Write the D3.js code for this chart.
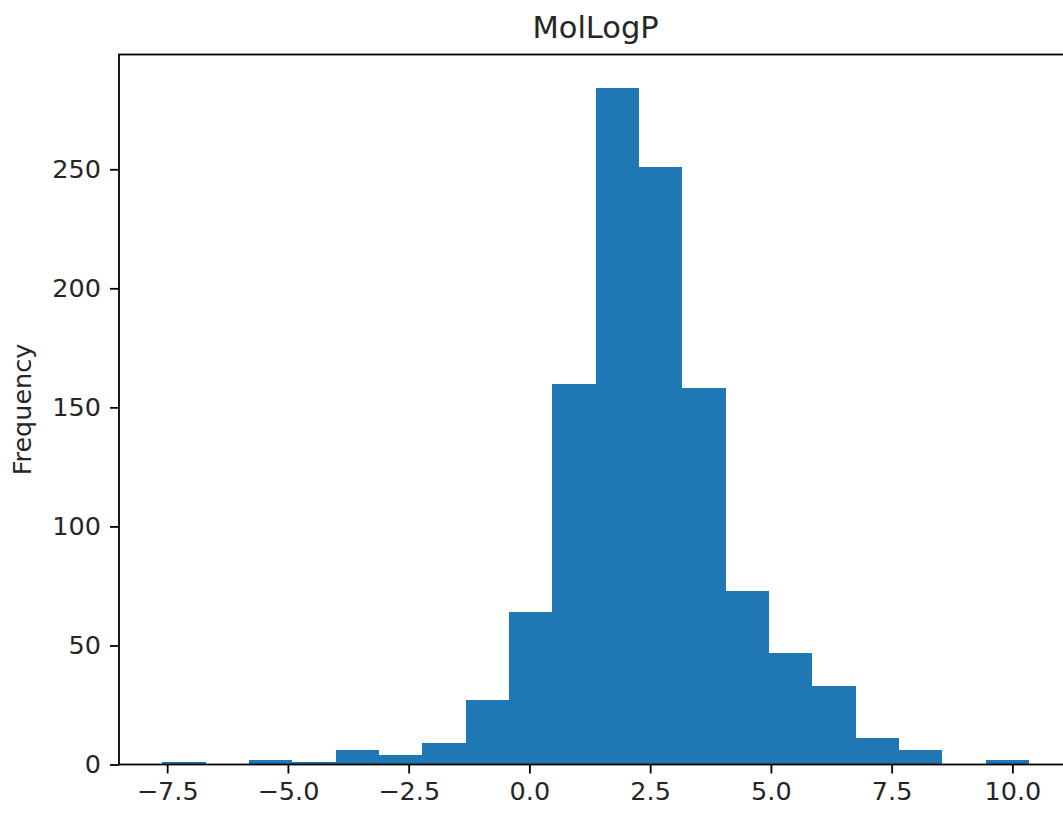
<!DOCTYPE html>
<html>
<head>
<meta charset="utf-8">
<script src="https://cdn.jsdelivr.net/npm/d3@7"></script>
<style>
  body { margin: 0; background: #fff; }
  svg { display: block; font-family: "DejaVu Sans", sans-serif; }
</style>
</head>
<body>
<div id="chart"></div>
<script>
// histogram of MolLogP, 20 bins
const binStart = -7.60;
const binEnd = 10.34;
const counts = [1, 0, 2, 1, 6, 4, 9, 27, 64, 160, 284, 251, 158, 73, 47, 33, 11, 6, 0, 2];
const xTicks = [-7.5, -5.0, -2.5, 0.0, 2.5, 5.0, 7.5, 10.0];
const yTicks = [0, 50, 100, 150, 200, 250];
const title = "MolLogP";
const yLabel = "Frequency";

const W = 1063, H = 813;
const plotLeft = 119, plotTop = 54.5, plotBottom = 764.5;

var nBins = counts.length;
var step = (binEnd - binStart) / nBins;
var bins = counts.map(function(c, i){
	return {x0: binStart + i*step, x1: binStart + (i+1)*step, n: c};
});

var span = binEnd - binStart;
var xMin = binStart - 0.05*span, xMax = binEnd + 0.05*span;
var pxPerUnit = 48.3;
var plotRight = plotLeft + (xMax - xMin)*pxPerUnit;

var x = d3.scaleLinear().domain([xMin, xMax]).range([plotLeft, plotRight]);
var y = d3.scaleLinear().domain([0, d3.max(counts)*1.05]).range([plotBottom, plotTop]);

var svg = d3.select("#chart").append("svg")
	.attr("width", W)
	.attr("height", H);

svg.append("g")
	.attr("shape-rendering", "crispEdges")
	.selectAll("rect")
	.data(bins)
	.join("rect")
	.attr("x", function(d){ return x(d.x0); })
	.attr("width", function(d){ return x(d.x1) - x(d.x0); })
	.attr("y", function(d){ return y(d.n); })
	.attr("height", function(d){ return y(0) - y(d.n); })
	.attr("fill", "#1f77b4");

// axes
var xAxis = d3.axisBottom(x).tickValues(xTicks)
	.tickFormat(function(d){ return d3.format(".1f")(d).replace("-", "\u2212"); })
	.tickSizeOuter(0).tickSize(9).tickPadding(8);
var gx = svg.append("g").attr("transform", "translate(0," + plotBottom + ")").call(xAxis);

var yAxis = d3.axisLeft(y).tickValues(yTicks).tickSizeOuter(0).tickSize(9).tickPadding(9);
var gy = svg.append("g").attr("transform", "translate(" + plotLeft + ",0)").call(yAxis);

[gx, gy].forEach(function(g){
	g.attr("font-family", "DejaVu Sans").attr("font-size", null);
	g.select(".domain").remove();
	g.selectAll(".tick line").attr("stroke", "#000").attr("stroke-width", 1.8);
	g.selectAll(".tick text").attr("fill", "#262626").style("font-size", "25.5px");
});

// spines
svg.append("rect")
	.attr("x", plotLeft).attr("y", plotTop)
	.attr("width", plotRight - plotLeft).attr("height", plotBottom - plotTop)
	.attr("fill", "none")
	.attr("stroke", "#000")
	.attr("stroke-width", 1.8);

svg.append("text")
	.attr("x", (plotLeft + plotRight)/2)
	.attr("y", 38)
	.attr("text-anchor", "middle")
	.style("font-size", "30.5px")
	.attr("fill", "#262626")
	.text(title);

svg.append("text")
	.attr("transform", "translate(31," + (plotTop + plotBottom)/2 + ") rotate(-90)")
	.attr("text-anchor", "middle")
	.style("font-size", "25.5px")
	.attr("fill", "#262626")
	.text(yLabel);
</script>
</body>
</html>
